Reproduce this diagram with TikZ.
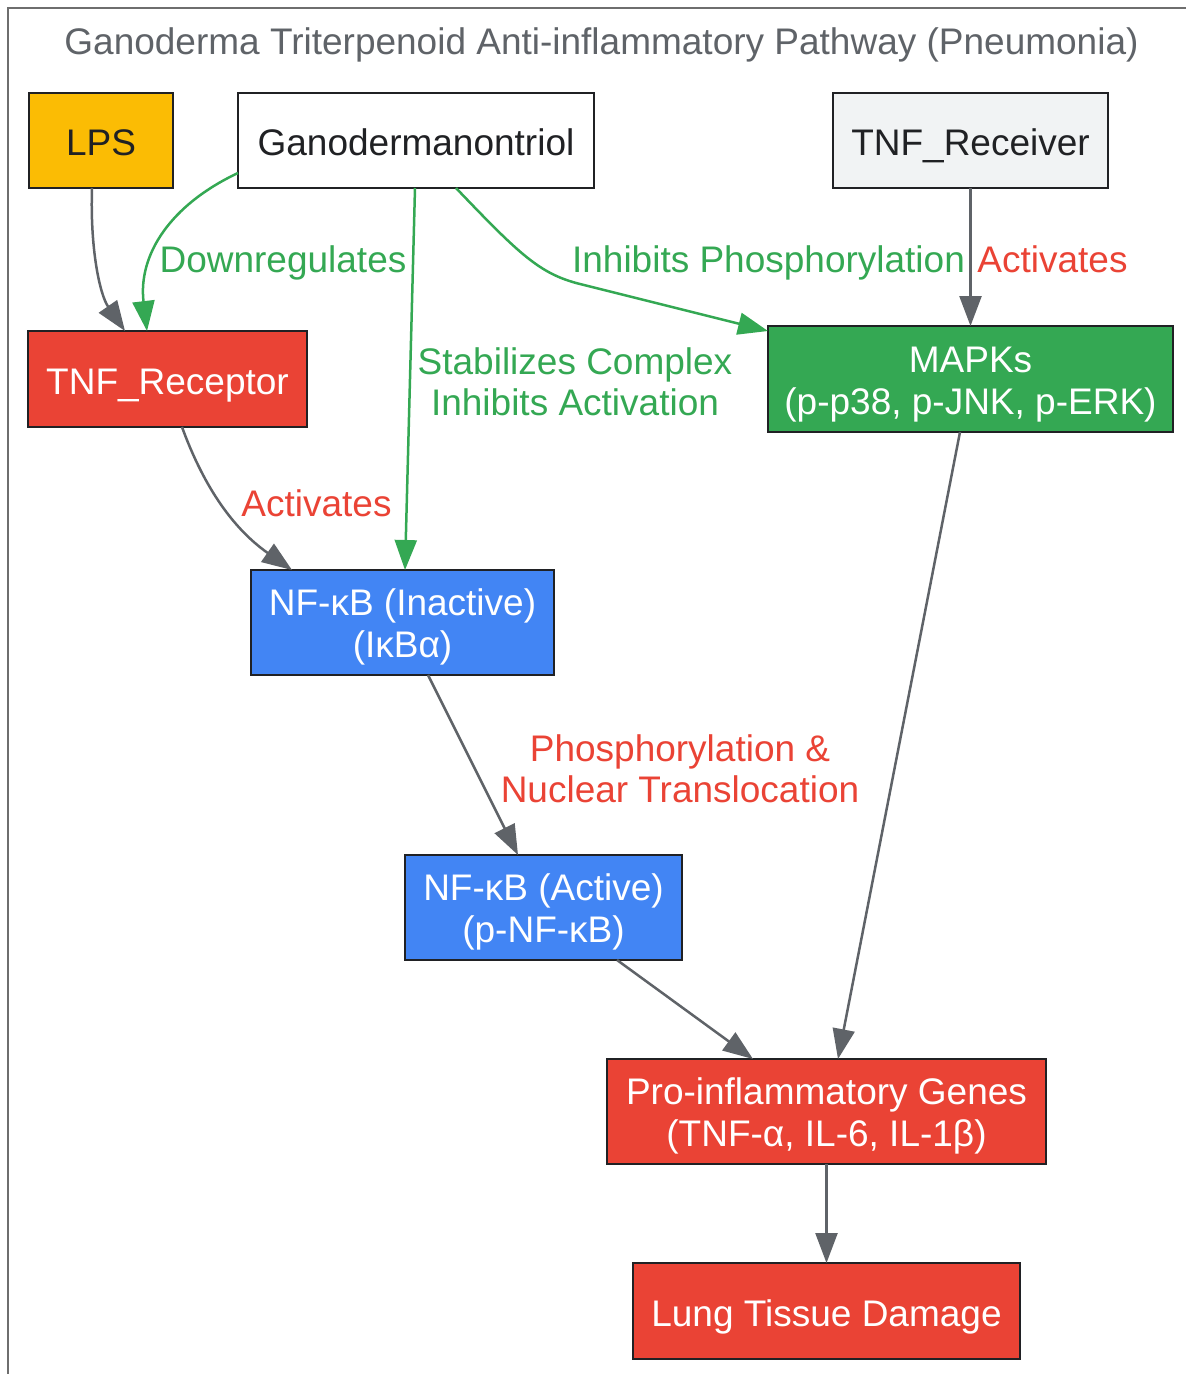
\documentclass[tikz,border=0pt]{standalone}
\usepackage{fontspec}
\setmainfont{Liberation Sans}
\usetikzlibrary{arrows.meta}
\definecolor{edgegray}{HTML}{5F6368}
\definecolor{gred}{HTML}{EA4335}
\definecolor{gblue}{HTML}{4285F4}
\definecolor{ggreen}{HTML}{34A853}
\definecolor{gyellow}{HTML}{FBBC04}
\definecolor{glight}{HTML}{F1F3F4}
\definecolor{darktext}{HTML}{202124}
\definecolor{framegray}{HTML}{6E6E6E}
\begin{document}
\begin{tikzpicture}[x=1pt,y=-1pt,
  box/.style={draw=darktext, line width=2.5pt, inner sep=0pt, outer sep=0pt, align=center, font=\fontsize{37}{42}\selectfont, text height=31pt, text depth=1pt},
  box2/.style={box, text height=73pt, text depth=3pt},
  lbl/.style={inner sep=0pt, align=center, font=\fontsize{37}{41}\selectfont},
  conn/.style={line width=2.5pt, draw=edgegray, -{Triangle[length=30pt,width=22pt]}},
  gconn/.style={conn, draw=ggreen}]
\useasboundingbox (0,0) rectangle (1186,1374);
\draw[framegray, line width=2pt] (8,1380) -- (8,8) -- (1190,8);
\node[lbl, text=edgegray, anchor=base] (title) at (601.5,54) {Ganoderma Triterpenoid Anti-inflammatory Pathway (Pneumonia)};

\node[box, fill=gyellow, text=darktext, minimum width=144pt, minimum height=95pt] (lps) at (101,140.5) {LPS};
\node[box, fill=white, text=darktext, minimum width=356pt, minimum height=95pt] (gano) at (416,140.5) {Ganodermanontriol};
\node[box, fill=glight, text=darktext, minimum width=275pt, minimum height=95pt] (recv) at (970.5,140.5) {TNF\_Receiver};
\node[box, fill=gred, text=white, minimum width=279pt, minimum height=96pt] (rec) at (167.5,379) {TNF\_Receptor};
\node[box2, fill=ggreen, text=white, minimum width=405pt, minimum height=106pt] (mapks) at (970.5,379) {MAPKs\\(p-p38, p-JNK, p-ERK)};
\node[box2, fill=gblue, text=white, minimum width=303pt, minimum height=105pt] (nfi) at (402.5,622.5) {NF-κB (Inactive)\\(IκBα)};
\node[box2, fill=gblue, text=white, minimum width=277pt, minimum height=105pt] (nfa) at (543.5,907.5) {NF-κB (Active)\\(p-NF-κB)};
\node[box2, fill=gred, text=white, minimum width=439pt, minimum height=105pt] (pro) at (826.5,1111.5) {Pro-inflammatory Genes\\(TNF-α, IL-6, IL-1β)};
\node[box, fill=gred, text=white, minimum width=387pt, minimum height=96pt] (lung) at (826.5,1311) {Lung Tissue Damage};

\draw[conn] ([xshift=-9pt]lps.south) .. controls (90,250) and (100,295) .. ([xshift=-42.5pt]rec.north);
\draw[gconn] ([yshift=-32.5pt]gano.west) .. controls (170,205) and (138,255) .. ([xshift=-20.5pt]rec.north);
\draw[gconn] ([xshift=-1pt]gano.south) -- ([xshift=2.5pt]nfi.north);
\draw[gconn] ([xshift=40pt]gano.south) .. controls (520,255) and (540,274) .. (580,284) -- ([yshift=-5pt]mapks.north west);
\draw[conn] (recv.south) -- (mapks.north);
\draw[conn] ([xshift=14.5pt]rec.south) .. controls (205,490) and (235,530) .. ([xshift=41pt]nfi.north west);
\draw[conn] ([xshift=25.5pt]nfi.south) -- ([xshift=-25.5pt]nfa.north);
\draw[conn] ([xshift=-10.5pt]mapks.south) -- ([xshift=11.5pt]pro.north);
\draw[conn] ([xshift=73.5pt]nfa.south) -- ([xshift=-73.5pt]pro.north);
\draw[conn] (pro.south) -- (lung.north);

\node[lbl, text=ggreen, anchor=base] (l1) at (283,272) {Downregulates};
\node[lbl, text=ggreen, anchor=base] (l2) at (768.5,272) {Inhibits Phosphorylation};
\node[lbl, text=gred, anchor=base] (l3) at (1052.5,272) {Activates};
\node[lbl, text=ggreen] (l4) at (575,382) {Stabilizes Complex\\Inhibits Activation};
\node[lbl, text=gred, anchor=base] (l5) at (316.5,516) {Activates};
\node[lbl, text=gred] (l6) at (680,768.5) {Phosphorylation \&\\Nuclear Translocation};
\end{tikzpicture}
\end{document}
